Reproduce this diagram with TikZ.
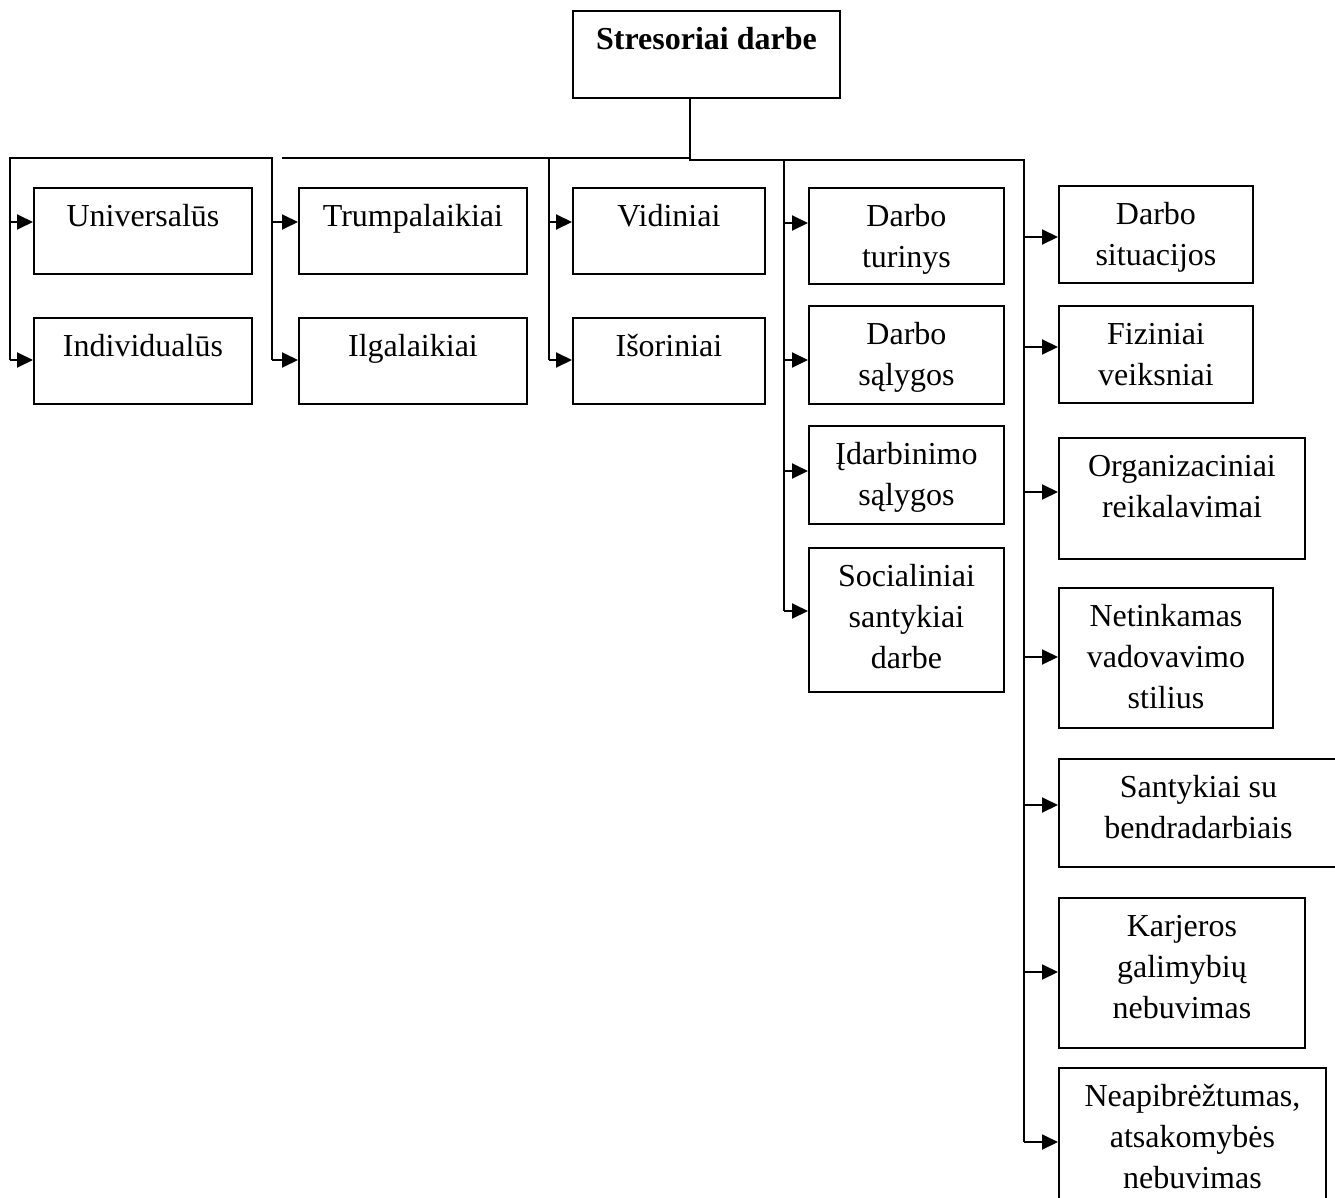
\documentclass[tikz,border=0pt]{standalone}
\usepackage{fontspec}
\setmainfont{Liberation Serif}
\usetikzlibrary{arrows.meta}
% box contents: width, height, text set from the top with a fixed first baseline
\newcommand{\cell}[3]{\parbox[t][#2][t]{#1}{\centering\rule{0pt}{39pt}#3}}
\begin{document}
\begin{tikzpicture}[x=1pt,y=-1pt,
  every node/.style={font=\fontsize{32}{41}\selectfont},
  box/.style={draw, line width=1.9pt, inner sep=0pt, anchor=north west},
  wire/.style={line width=1.9pt, line join=miter},
  arr/.style={wire, -{Triangle[length=16pt,width=15pt]}}]
\clip (0,0) rectangle (1335,1198);

% title
\node[box] (top) at (572,10) {\cell{267pt}{87pt}{\bfseries Stresoriai darbe}};

% first three pairs
\node[box] (u)  at (33,187)  {\cell{218pt}{86pt}{Universalūs}};
\node[box] (i)  at (33,317)  {\cell{218pt}{86pt}{Individualūs}};
\node[box] (t)  at (298,187) {\cell{228pt}{86pt}{Trumpalaikiai}};
\node[box] (il) at (298,317) {\cell{228pt}{86pt}{Ilgalaikiai}};
\node[box] (v)  at (572,187) {\cell{192pt}{86pt}{Vidiniai}};
\node[box] (is) at (572,317) {\cell{192pt}{86pt}{Išoriniai}};

% fourth column
\node[box] (dt) at (808,187) {\cell{195pt}{96pt}{Darbo\\turinys}};
\node[box] (ds) at (808,305) {\cell{195pt}{98pt}{Darbo\\sąlygos}};
\node[box] (id) at (808,425) {\cell{195pt}{98pt}{Įdarbinimo\\sąlygos}};
\node[box] (sd) at (808,547) {\cell{195pt}{144pt}{Socialiniai\\santykiai\\darbe}};

% right column
\node[box] (r1) at (1058,185)  {\cell{194pt}{97pt}{Darbo\\situacijos}};
\node[box] (r2) at (1058,305)  {\cell{194pt}{97pt}{Fiziniai\\veiksniai}};
\node[box] (r3) at (1058,437)  {\cell{246pt}{121pt}{Organizaciniai\\reikalavimai}};
\node[box] (r4) at (1058,587)  {\cell{214pt}{140pt}{Netinkamas\\vadovavimo\\stilius}};
\node[box] (r5) at (1058,758)  {\cell{279pt}{108pt}{Santykiai su\\bendradarbiais}};
\node[box] (r6) at (1058,897)  {\cell{246pt}{150pt}{Karjeros\\galimybių\\nebuvimas}};
\node[box] (r7) at (1058,1067) {\cell{267pt}{150pt}{Neapibrėžtumas,\\atsakomybės\\nebuvimas}};

% bus points
\coordinate (drop) at (690,160);
\coordinate (hl) at (282,158);
\coordinate (hr) at (690,158);
\coordinate (b1t) at (10,158);
\coordinate (b2t) at (272,158);
\coordinate (b3t) at (549,158);
\coordinate (b4t) at (784,160);
\coordinate (b5t) at (1024,160);

\coordinate (au)  at (10,222);
\coordinate (ai)  at (10,360);
\coordinate (at)  at (272,222);
\coordinate (ail) at (272,360);
\coordinate (av)  at (549,222);
\coordinate (ais) at (549,360);
\coordinate (adt) at (784,223);
\coordinate (ads) at (784,360);
\coordinate (aid) at (784,471);
\coordinate (asd) at (784,611);
\coordinate (ar1) at (1024,237);
\coordinate (ar2) at (1024,347);
\coordinate (ar3) at (1024,492);
\coordinate (ar4) at (1024,657);
\coordinate (ar5) at (1024,805);
\coordinate (ar6) at (1024,972);
\coordinate (ar7) at (1024,1142);

% trunk and buses
\draw[wire] (top.south -| drop) -- (drop) -- (b5t) -- (ar7);
\draw[wire] (hl) -- (hr);
\draw[wire] (ai) -- (b1t) -- (b2t) -- (ail);
\draw[wire] (b3t) -- (ais);
\draw[wire] (b4t) -- (asd);

% arrows into the boxes
\draw[arr] (au)  -- (au -| u.west);
\draw[arr] (ai)  -- (ai -| i.west);
\draw[arr] (at)  -- (at -| t.west);
\draw[arr] (ail) -- (ail -| il.west);
\draw[arr] (av)  -- (av -| v.west);
\draw[arr] (ais) -- (ais -| is.west);
\draw[arr] (adt) -- (adt -| dt.west);
\draw[arr] (ads) -- (ads -| ds.west);
\draw[arr] (aid) -- (aid -| id.west);
\draw[arr] (asd) -- (asd -| sd.west);
\draw[arr] (ar1) -- (ar1 -| r1.west);
\draw[arr] (ar2) -- (ar2 -| r2.west);
\draw[arr] (ar3) -- (ar3 -| r3.west);
\draw[arr] (ar4) -- (ar4 -| r4.west);
\draw[arr] (ar5) -- (ar5 -| r5.west);
\draw[arr] (ar6) -- (ar6 -| r6.west);
\draw[arr] (ar7) -- (ar7 -| r7.west);
\end{tikzpicture}
\end{document}
